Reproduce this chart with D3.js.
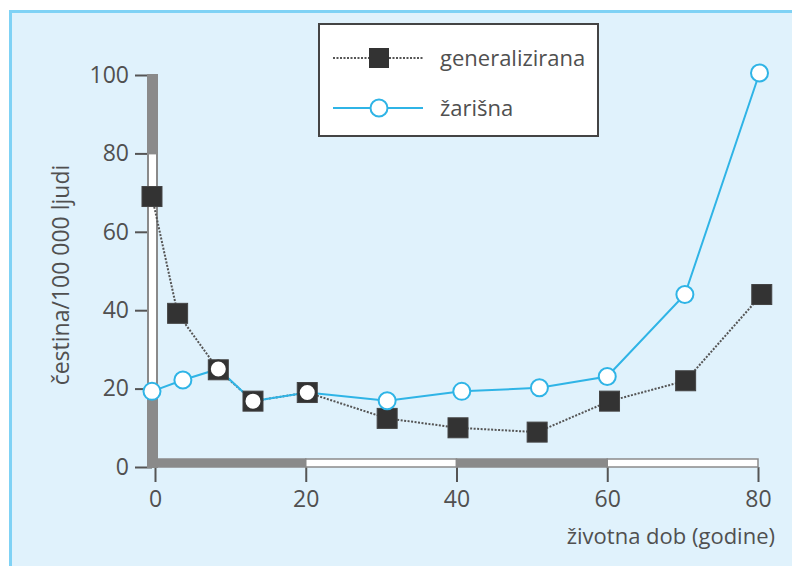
<!DOCTYPE html>
<html><head><meta charset="utf-8">
<script src="https://cdn.jsdelivr.net/npm/d3@7"></script>
<style>body{margin:0;background:#fff}svg{display:block}text{font-family:"Open Sans",Lato,sans-serif;fill:#505050}</style>
</head><body>
<svg id="c" width="792" height="566"></svg>
<script>
const genX = [-0.4, 3, 8.4, 13, 20.2, 30.8, 40.2, 50.7, 60.3, 70.4, 80.5];
const genY = [69, 39.2, 24.8, 16.8, 19, 12.4, 10, 8.9, 16.8, 22, 44];
const zarX = [-0.4, 3.7, 8.4, 13, 20.2, 30.8, 40.7, 51, 60, 70.3, 80.2];
const zarY = [19.3, 22.2, 25, 16.8, 19, 16.9, 19.3, 20.2, 23.1, 44, 100.5];
const xTicks = [0, 20, 40, 60, 80];
const yTicks = [0, 20, 40, 60, 80, 100];
const seriesNames = ["generalizirana", "žarišna"];
const xTitle = "životna dob (godine)";
const yTitle = "čestina/100 000 ljudi";

const svg = d3.select("#c");
svg.append("rect").attr("x",10.5).attr("y",11.5).attr("width",800).attr("height",600)
  .attr("fill","#e0f2fc").attr("stroke","#7fd2f5").attr("stroke-width",3);

const x = d3.scaleLinear().domain([0,80]).range([155,758]);
const y = d3.scaleLinear().domain([0,100]).range([467,75]);
const grey = "#8a8a8a", dark = "#555";

// y ticks
const yAx = svg.append("g").attr("transform","translate(152,0)")
  .call(d3.axisLeft(y).tickValues(yTicks).tickSize(17).tickPadding(6));
yAx.select(".domain").remove();
yAx.selectAll(".tick line").attr("stroke",dark).attr("stroke-width",2);
yAx.selectAll(".tick text").style("font-size","23px").attr("fill","#505050");

// x ticks
const xAx = svg.append("g").attr("transform","translate(0,467)")
  .call(d3.axisBottom(x).tickValues(xTicks).tickSize(15).tickPadding(9));
xAx.select(".domain").remove();
xAx.selectAll(".tick line").attr("stroke",dark).attr("stroke-width",2);
xAx.selectAll(".tick text").style("font-size","23px").attr("fill","#505050");

// y-axis thick bar segments
const ySegs = [[80,100,grey],[20,80,"#fff"],[0,20,grey]];
svg.append("g").selectAll("rect").data(ySegs).join("rect")
  .attr("x",148).attr("width",9)
  .attr("y",d=>y(d[1])).attr("height",d=>y(d[0])-y(d[1]))
  .attr("fill",d=>d[2]).attr("stroke",grey).attr("stroke-width",2);
// x-axis thick bar segments
const xSegs = [[0,20,grey],[20,40,"#fff"],[40,60,grey],[60,80,"#fff"]];
svg.append("g").selectAll("rect").data(xSegs).join("rect")
  .attr("y",459).attr("height",8)
  .attr("x",d=>Math.max(x(d[0]),157)).attr("width",d=>x(d[1])-Math.max(x(d[0]),157))
  .attr("fill",d=>d[2]).attr("stroke",grey).attr("stroke-width",1.5);
svg.selectAll(".tick line").raise();

// titles
svg.append("text").attr("x",775).attr("y",544).attr("text-anchor","end")
  .style("font-size","22px").text(xTitle);
svg.append("text").attr("transform","translate(69,275) rotate(-90)").attr("text-anchor","middle")
  .style("font-size","23px").text(yTitle);

const gen = genX.map((v,i)=>({x:v,y:genY[i]}));
const zar = zarX.map((v,i)=>({x:v,y:zarY[i]}));
const line = d3.line().x(d=>x(d.x)).y(d=>y(d.y));

svg.append("path").datum(gen).attr("d",line).attr("fill","none")
  .attr("stroke","#555").attr("stroke-width",2).attr("stroke-dasharray","2,1.5");
svg.append("path").datum(zar).attr("d",line).attr("fill","none")
  .attr("stroke","#2fb4e6").attr("stroke-width",2);

svg.append("g").selectAll("rect").data(gen).join("rect")
  .attr("x",d=>x(d.x)-10).attr("y",d=>y(d.y)-10).attr("width",20).attr("height",20)
  .attr("fill","#333").attr("stroke","#444").attr("stroke-width",1);
const coincide = (d,i)=>Math.abs(d.x-gen[i].x)<0.5 && Math.abs(d.y-gen[i].y)<0.5;
svg.append("g").selectAll("circle").data(zar).join("circle")
  .attr("cx",d=>x(d.x)).attr("cy",d=>y(d.y)).attr("r",d=>8.5)
  .attr("fill","#fff").attr("stroke",(d,i)=>coincide(d,i)?"#333":"#2fb4e6").attr("stroke-width",2);

// legend
const lg = svg.append("g");
lg.append("rect").attr("x",319).attr("y",24).attr("width",279).attr("height",112)
  .attr("fill","#fff").attr("stroke","#444").attr("stroke-width",2);
lg.append("line").attr("x1",333).attr("x2",423).attr("y1",58).attr("y2",58)
  .attr("stroke","#555").attr("stroke-width",2).attr("stroke-dasharray","2,1.5");
lg.append("rect").attr("x",369).attr("y",48).attr("width",20).attr("height",20).attr("fill","#333");
lg.append("line").attr("x1",333).attr("x2",423).attr("y1",108).attr("y2",108)
  .attr("stroke","#2fb4e6").attr("stroke-width",2);
lg.append("circle").attr("cx",379).attr("cy",108).attr("r",8.5).attr("fill","#fff")
  .attr("stroke","#2fb4e6").attr("stroke-width",2);
lg.selectAll("text").data(seriesNames).join("text")
  .attr("x",440).attr("y",(d,i)=>58+i*50).attr("dy","0.35em")
  .style("font-size","22px").text(d=>d);
</script>
</body></html>
